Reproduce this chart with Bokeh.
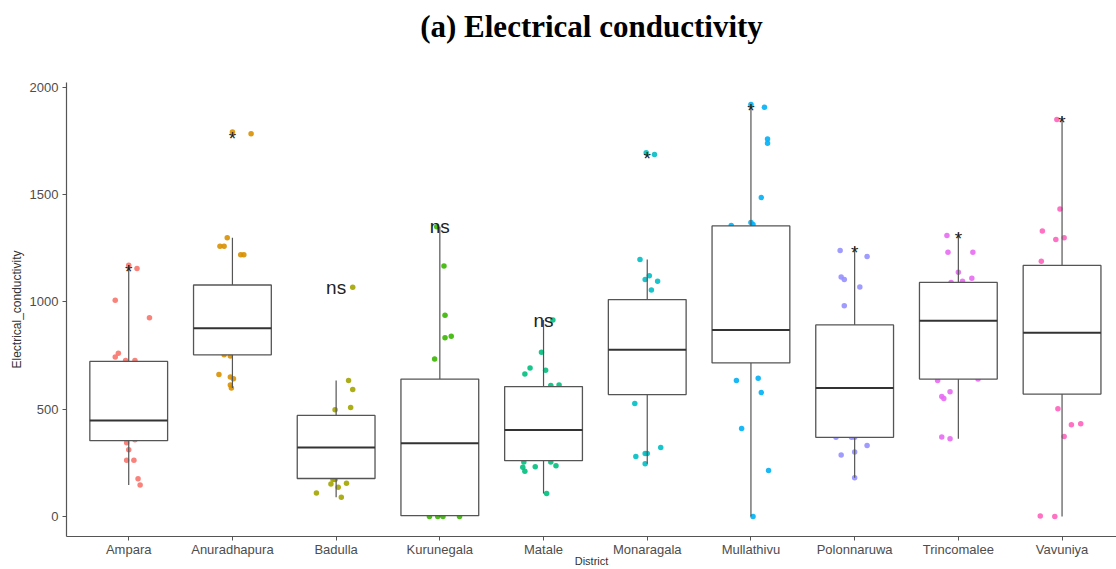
from bokeh.plotting import figure
from bokeh.models import ColumnDataSource, FixedTicker, Range1d, Title
from bokeh.core.properties import value
from bokeh.embed import file_html
from bokeh.resources import INLINE

# Districts and their ggplot-style hue colours
DISTRICTS = ["Ampara", "Anuradhapura", "Badulla", "Kurunegala", "Matale",
             "Monaragala", "Mullathivu", "Polonnaruwa", "Trincomalee", "Vavuniya"]
COLORS = ["#F8766D", "#D89000", "#A3A500", "#39B600", "#00BF7D",
          "#00BFC4", "#00B0F6", "#9590FF", "#E76BF3", "#FF62BC"]

# Box statistics (electrical conductivity)
Q1 = [353, 753, 177, 4, 260, 568, 715, 369, 640, 570]
MEDIAN = [447, 877, 322, 341, 403, 776, 869, 599, 912, 856]
Q3 = [722, 1078, 471, 640, 605, 1010, 1353, 892, 1090, 1169]
WHISK_LO = [147, 598, 90, 0, 107, 246, 0, 180, 362, 0]
WHISK_HI = [1171, 1298, 633, 1349, 915, 1197, 1919, 1256, 1321, 1863]

# Significance labels per district
SIGNIF = ["*", "*", "ns", "ns", "ns", "*", "*", "*", "*", "*"]

# Individual observations per district
EC_AMPARA = [1170, 1155, 1007, 926, 760, 743, 726, 726, 344, 358, 311, 262, 262, 176, 147]
EC_ANURADHAPURA = [1790, 1782, 1298, 1259, 1259, 1219, 1219, 753, 748, 661, 650, 641, 613, 598]
EC_BADULLA = [1068, 633, 592, 508, 497, 172, 172, 152, 155, 136, 110, 90]
EC_KURUNEGALA = [1349, 1166, 937, 833, 840, 734, 0, 0, 0, 0]
EC_MATALE = [915, 765, 692, 664, 681, 610, 613, 254, 254, 229, 232, 237, 211, 107]
EC_MONARAGALA = [1694, 1686, 1197, 1121, 1104, 1096, 1055, 526, 294, 294, 279, 321, 246]
EC_MULLATHIVU = [1919, 1906, 1758, 1738, 1485, 1369, 1360, 1355, 633, 644, 577, 410, 214, 0]
EC_POLONNARUWA = [1239, 1211, 1115, 1104, 1069, 982, 369, 369, 369, 331, 287, 301, 180]
EC_TRINCOMALEE = [1309, 1231, 1231, 1138, 1095, 1110, 1090, 633, 640, 581, 559, 550, 370, 362]
EC_VAVUNIYA = [1849, 1432, 1329, 1290, 1298, 1189, 502, 427, 432, 373, 3, 0]

# Horizontal jitter (in category units) used when drawing the observations
JITTER = [
    [0.0, 0.08, -0.13, 0.20, -0.10, -0.13, -0.03, 0.06, -0.02, 0.06, 0.0, -0.02, 0.05, 0.09, 0.11],
    [0.0, 0.18, -0.05, -0.12, -0.08, 0.08, 0.11, -0.08, -0.02, -0.13, -0.02, 0.01, -0.02, -0.01],
    [0.16, 0.12, 0.16, 0.14, -0.01, -0.03, -0.01, -0.05, 0.10, 0.02, -0.19, 0.05],
    [-0.03, 0.04, 0.05, 0.05, 0.11, -0.05, -0.10, -0.02, 0.03, 0.19],
    [0.09, -0.02, -0.13, -0.18, 0.02, 0.07, 0.15, -0.19, 0.07, -0.20, -0.08, 0.12, -0.18, 0.03],
    [-0.01, 0.07, -0.07, 0.02, -0.02, 0.10, 0.04, -0.12, 0.0, -0.02, -0.11, 0.13, -0.02],
    [0.0, 0.13, 0.16, 0.16, 0.10, 0.0, 0.02, -0.19, -0.14, 0.07, 0.10, -0.09, 0.17, 0.02],
    [-0.14, 0.12, -0.13, -0.10, 0.05, -0.10, -0.18, -0.03, 0.0, 0.12, -0.13, 0.0, 0.0],
    [-0.11, -0.10, 0.14, 0.0, 0.04, 0.13, -0.07, -0.20, 0.19, -0.08, -0.16, -0.14, -0.16, -0.08],
    [-0.05, -0.02, -0.19, -0.06, 0.02, -0.20, -0.04, 0.09, 0.18, 0.02, -0.21, -0.07],
]

OBS = [EC_AMPARA, EC_ANURADHAPURA, EC_BADULLA, EC_KURUNEGALA, EC_MATALE,
       EC_MONARAGALA, EC_MULLATHIVU, EC_POLONNARUWA, EC_TRINCOMALEE, EC_VAVUNIYA]

TEXT_FONT = "Liberation Sans"
AXIS_GREY = "#555555"
LABEL_GREY = "#4D4D4D"

p = figure(width=1116, height=569, output_backend="svg", toolbar_location=None,
           x_range=Range1d(0.4, 10.525), y_range=Range1d(-93, 2021),
           min_border_left=66, min_border_right=0, min_border_bottom=32,
           min_border_top=82)
p.outline_line_color = None
p.xgrid.visible = False
p.ygrid.visible = False
p.background_fill_color = "white"

# heading; the trailing blank line leaves room between it and the plot area
p.title = Title(text="(a) Electrical conductivity\n", align="center",
                standoff=8, text_line_height=1.0,
                text_font="Liberation Serif", text_font_size="31px",
                text_font_style="bold", text_color="black")

# jittered observations (drawn beneath the boxes)
xs, ys, cs = [], [], []
for i, (vals, jit) in enumerate(zip(OBS, JITTER)):
    for v, j in zip(vals, jit):
        xs.append(i + 1 + j)
        ys.append(v)
        cs.append(COLORS[i])
p.scatter(x="x", y="y", color="c", source=ColumnDataSource(dict(x=xs, y=ys, c=cs)),
          size=5.5, alpha=0.9, line_width=0)

# boxplots
pos = [i + 1 for i in range(len(DISTRICTS))]
half = 0.375
p.segment(x0=pos, x1=pos, y0=Q3, y1=WHISK_HI, line_color=AXIS_GREY, line_width=1.2)
p.segment(x0=pos, x1=pos, y0=WHISK_LO, y1=Q1, line_color=AXIS_GREY, line_width=1.2)
p.quad(left=[x - half for x in pos], right=[x + half for x in pos], bottom=Q1, top=Q3,
       fill_color="white", line_color=AXIS_GREY, line_width=1.3)
p.segment(x0=[x - half for x in pos], x1=[x + half for x in pos], y0=MEDIAN, y1=MEDIAN,
          line_color="#333333", line_width=2)

# significance labels at the top of each group; the asterisk glyph sits high
# in its line box, so it is nudged down to centre on the value
label_y = [max(max(v), w) for v, w in zip(OBS, WHISK_HI)]
nudge = [6 if s == "*" else 0 for s in SIGNIF]
p.text(x="x", y="y", text="t", y_offset="dy",
       source=ColumnDataSource(dict(x=pos, y=label_y, t=SIGNIF, dy=nudge)),
       text_align="center", text_baseline="middle",
       text_font=value(TEXT_FONT), text_font_size="19px", text_color="#222222")

# axes
p.xaxis.ticker = FixedTicker(ticks=pos)
p.xaxis.major_label_overrides = {i + 1: d for i, d in enumerate(DISTRICTS)}
p.yaxis.ticker = FixedTicker(ticks=[0, 500, 1000, 1500, 2000])
for ax in (p.xaxis[0], p.yaxis[0]):
    ax.axis_line_color = AXIS_GREY
    ax.axis_line_width = 1.2
    ax.major_tick_line_color = AXIS_GREY
    ax.major_tick_in = 0
    ax.major_tick_out = 4
    ax.minor_tick_line_color = None
    ax.major_label_text_font = TEXT_FONT
    ax.major_label_text_font_size = "13px"
    ax.major_label_text_color = LABEL_GREY
    ax.axis_label_text_font = TEXT_FONT
    ax.axis_label_text_font_size = "12px"
    ax.axis_label_text_font_style = "normal"
    ax.axis_label_text_color = "#333333"
p.xaxis.axis_label = "District"
p.yaxis.axis_label = "Electrical_conductivity"
p.xaxis.axis_label_text_font_size = "11px"
p.xaxis.major_label_standoff = 1
p.xaxis.axis_label_standoff = -5
p.yaxis.major_label_standoff = 4
p.yaxis.axis_label_standoff = 3

open("out.html", "w").write(file_html(p, INLINE))
